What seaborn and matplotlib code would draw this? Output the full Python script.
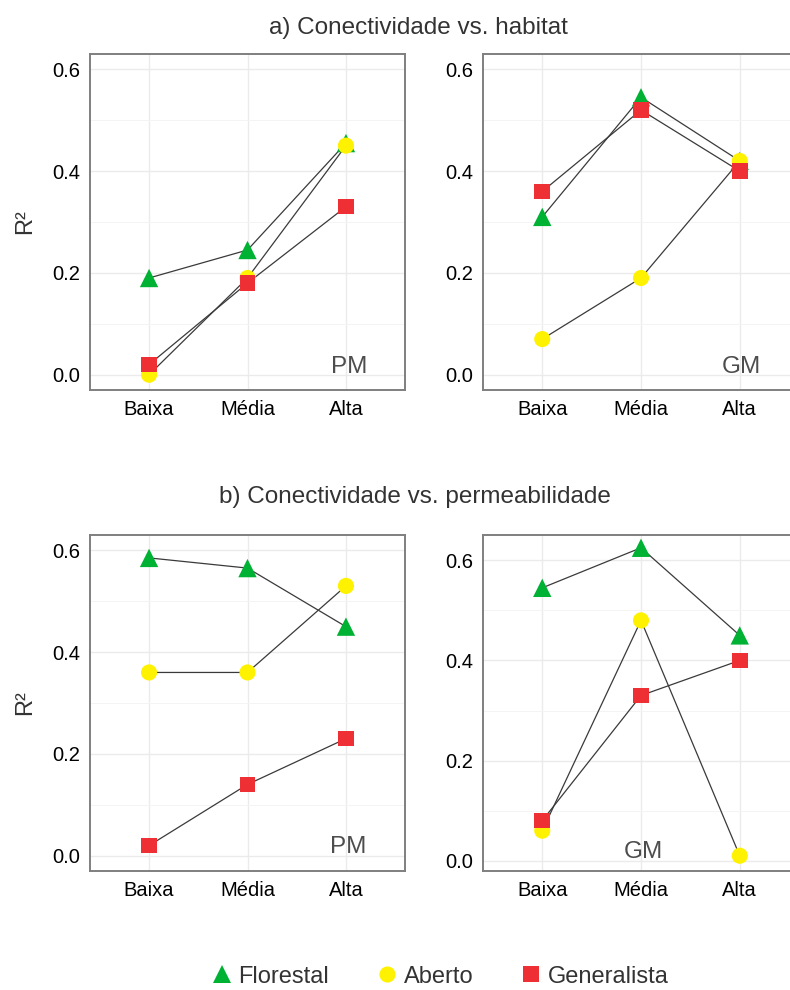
import numpy as np
import pandas as pd
import matplotlib
matplotlib.use("Agg")
import matplotlib.pyplot as plt
import seaborn as sns
from matplotlib.ticker import MultipleLocator

# ---------------- data ----------------
levels = ["Baixa", "Média", "Alta"]
groups = ["Florestal", "Aberto", "Generalista"]

hab_pm_florestal = [0.19, 0.245, 0.455]
hab_pm_aberto = [0.0, 0.19, 0.45]
hab_pm_generalista = [0.02, 0.18, 0.33]

hab_gm_florestal = [0.31, 0.545, 0.42]
hab_gm_aberto = [0.07, 0.19, 0.42]
hab_gm_generalista = [0.36, 0.52, 0.40]

perm_pm_florestal = [0.585, 0.565, 0.45]
perm_pm_aberto = [0.36, 0.36, 0.53]
perm_pm_generalista = [0.02, 0.14, 0.23]

perm_gm_florestal = [0.545, 0.625, 0.45]
perm_gm_aberto = [0.06, 0.48, 0.01]
perm_gm_generalista = [0.08, 0.33, 0.40]

titles = ["a) Conectividade vs. habitat", "b) Conectividade vs. permeabilidade"]
scale_labels = ["PM", "GM", "PM", "GM"]

palette = {"Florestal": "#00B233", "Aberto": "#FFF200", "Generalista": "#EE3035"}
markers = {"Florestal": "^", "Aberto": "o", "Generalista": "s"}
sizes = {"Florestal": 175, "Aberto": 135, "Generalista": 125}


def make_frame(flo, abe, gen):
    rows = []
    for g, vals in zip(groups, [flo, abe, gen]):
        for i, (lv, v) in enumerate(zip(levels, vals)):
            rows.append({"grupo": g, "nivel": lv, "pos": i, "r2": v})
    return pd.DataFrame(rows)


frames = [
    make_frame(hab_pm_florestal, hab_pm_aberto, hab_pm_generalista),
    make_frame(hab_gm_florestal, hab_gm_aberto, hab_gm_generalista),
    make_frame(perm_pm_florestal, perm_pm_aberto, perm_pm_generalista),
    make_frame(perm_gm_florestal, perm_gm_aberto, perm_gm_generalista),
]

# ---------------- style ----------------
sns.set_theme(style="white")
plt.rcParams["font.family"] = ["Liberation Sans", "DejaVu Sans"]

W, H = 790, 990
fig = plt.figure(figsize=(W / 100, H / 100), dpi=100)


def rect(left, top, right, bottom):
    return [left / W, 1 - bottom / H, (right - left) / W, (bottom - top) / H]


positions = [
    rect(90, 54, 405, 390),
    rect(483, 54, 799, 390),
    rect(90, 535, 405, 871),
    rect(483, 535, 799, 871),
]
ylims = [(-0.03, 0.63), (-0.03, 0.63), (-0.03, 0.63), (-0.0205, 0.6505)]
label_xy = [(2.03, 0.016), (2.02, 0.016), (2.02, 0.017), (1.02, 0.018)]

axes = []
for k, (df, pos) in enumerate(zip(frames, positions)):
    ax = fig.add_axes(pos)
    axes.append(ax)
    ax.set_facecolor("white")
    # grid
    ax.yaxis.set_major_locator(MultipleLocator(0.2))
    ax.yaxis.set_minor_locator(MultipleLocator(0.1))
    ax.grid(True, which="major", color="#EBEBEB", lw=1.0, zorder=0)
    ax.grid(True, which="minor", axis="y", color="#F4F4F4", lw=0.7, zorder=0)
    ax.set_axisbelow(True)

    sns.lineplot(data=df, x="pos", y="r2", units="grupo", estimator=None,
                 sort=False, color="#3a3a3a", lw=0.9, ax=ax, legend=False,
                 zorder=2)
    sns.scatterplot(data=df, x="pos", y="r2", hue="grupo", style="grupo",
                    size="grupo", hue_order=groups, style_order=groups,
                    size_order=groups, palette=palette, markers=markers,
                    sizes=sizes, linewidth=0, ax=ax, zorder=3,
                    legend=(k == 0))

    ax.set_xlim(-0.6, 2.6)
    ax.set_ylim(*ylims[k])
    ax.set_xticks(range(len(levels)))
    ax.set_xticklabels(levels)
    ax.set_yticks([0.0, 0.2, 0.4, 0.6])
    ax.set_yticklabels(["0.0", "0.2", "0.4", "0.6"])
    ax.tick_params(axis="both", which="major", direction="out", length=4.5,
                   width=1.2, color="#333333", labelsize=14.5,
                   labelcolor="black", pad=2.5)
    ax.tick_params(axis="y", which="minor", length=0)
    ax.set_xlabel("")
    if k % 2 == 0:
        ax.set_ylabel("R²", fontsize=17, color="#333333")
        ax.yaxis.set_label_coords(-0.17, 0.5)
    else:
        ax.set_ylabel("")
    for sp in ax.spines.values():
        sp.set_color("#7F7F7F")
        sp.set_linewidth(1.4)
        sp.set_visible(True)
    lx, ly = label_xy[k]
    ax.text(lx, ly, scale_labels[k], ha="center", va="center",
            fontsize=17.5, color="#4D4D4D", zorder=4)

# legend
handles, labels = axes[0].get_legend_handles_labels()
axes[0].get_legend().remove()
keep = [(h, l) for h, l in zip(handles, labels) if l in groups]
fig.legend([h for h, _ in keep], [l for _, l in keep], loc="center",
           bbox_to_anchor=(0.557, 0.0135), ncol=3, frameon=False,
           fontsize=17, handlelength=0.9, handletextpad=0.25,
           columnspacing=2.0, labelcolor="#333333", markerscale=1.0)

fig.text(418 / W, 1 - 28 / H, titles[0], ha="center", va="center",
         fontsize=17.5, color="#333333")
fig.text(415 / W, 1 - 497 / H, titles[1], ha="center", va="center",
         fontsize=17.5, color="#333333")

fig.savefig("out.png", dpi=100, facecolor="white")
